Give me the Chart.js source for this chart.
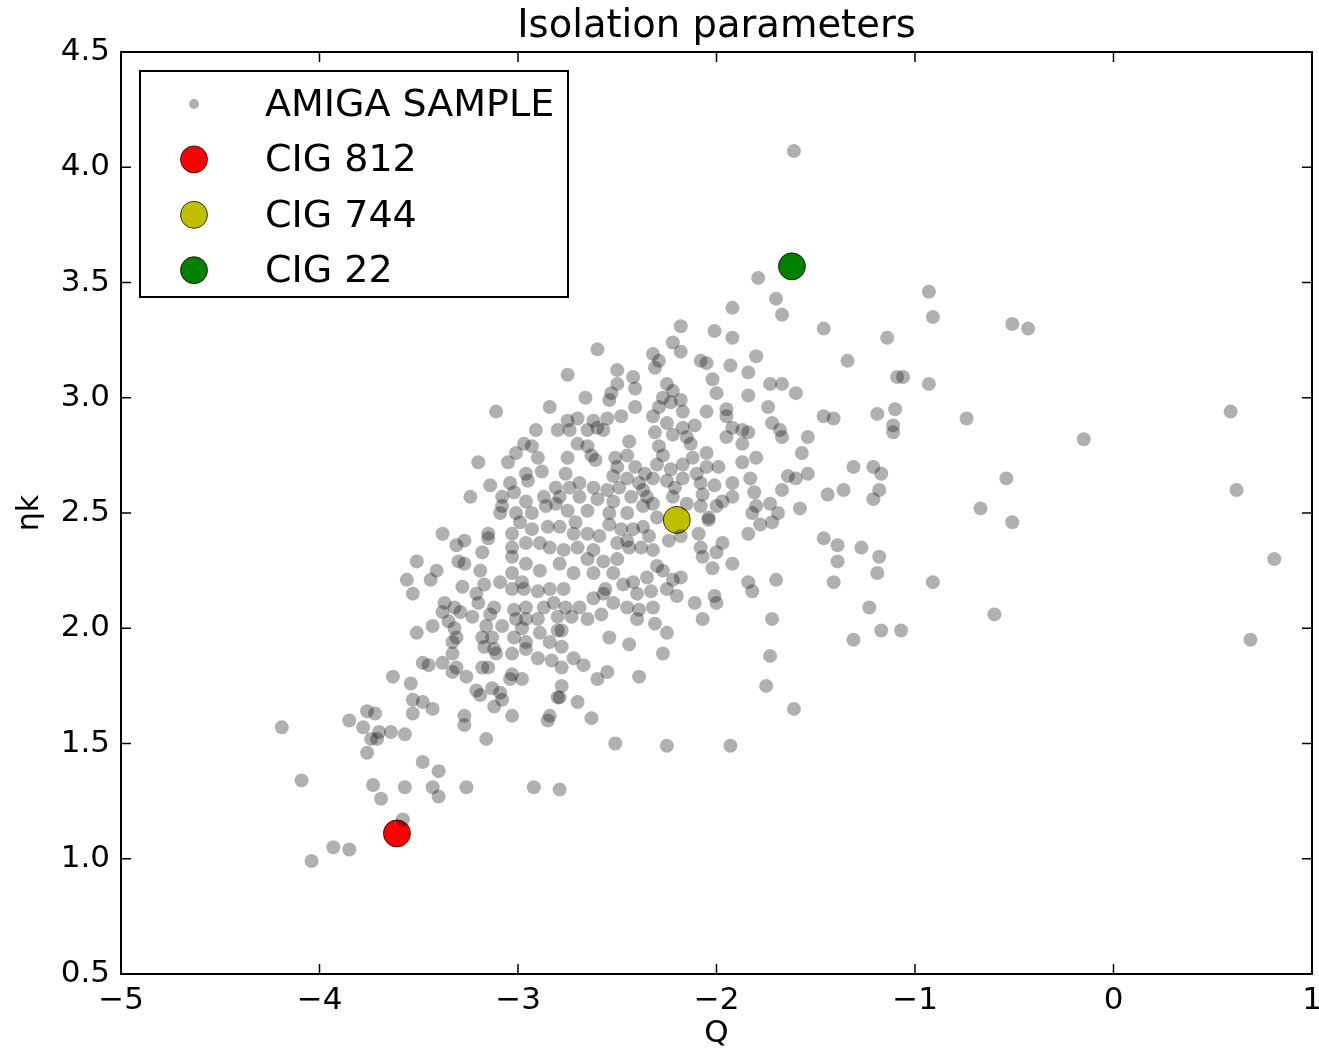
<!DOCTYPE html>
<html>
<head>
<meta charset="utf-8">
<script src="https://cdn.jsdelivr.net/npm/chart.js@4.4.1/dist/chart.umd.min.js"></script>
<style>
html,body{margin:0;padding:0;background:#fff;}
canvas{display:block;}
</style>
</head>
<body>
<canvas id="c" width="1319" height="1050"></canvas>
<script>
// ---- data ----
const chartTitle = 'Isolation parameters';
const xAxisLabel = 'Q';
const yAxisLabel = 'ηk';
const xTickValues = [-5, -4, -3, -2, -1, 0, 1];
const yTickValues = [0.5, 1.0, 1.5, 2.0, 2.5, 3.0, 3.5, 4.0, 4.5];

const amigaLabel = 'AMIGA SAMPLE';
const amigaQ = [
-3.11,-2.84,-2.91,-2.80,-2.97,-2.93,-3.01,-2.90,-3.20,-3.05,-2.88,-2.96,-2.95,-3.04,-3.14,-3.24,-3.08,-3.02,-2.87,-2.81,-2.81,-2.96,-3.08,-3.09,-3.01,-2.93,-2.86,-2.76,
-2.60,-2.22,-2.18,-2.32,-2.29,-2.31,-2.08,-2.05,-1.93,-2.01,-1.92,-2.75,-2.50,-2.42,-2.02,-2.50,-2.41,-2.53,-2.66,-2.54,-2.25,-2.22,-2.00,-2.27,-2.23,-2.18,-2.41,-2.17,-2.05,-1.95,-1.95,-2.29,
-2.75,-2.70,-2.62,-2.55,-2.48,-2.32,-2.25,-2.74,-2.65,-2.60,-2.57,-2.11,-2.17,-1.92,-2.31,-2.22,-2.15,-1.95,-1.87,-2.44,-2.70,-2.65,-2.63,-2.61,-2.75,-2.51,-2.45,-2.29,-2.27,-2.13,-2.12,-2.05,
-2.50,-2.41,-2.36,-2.30,-2.23,-2.17,-2.05,-1.99,-2.52,-2.45,-2.39,-2.32,-2.25,-2.17,-2.10,-2.69,-2.74,-2.62,-2.55,-2.49,-2.37,-2.21,-2.08,-2.01,-1.92,
-2.79,-2.69,-2.60,-2.52,-2.43,-2.35,-2.22,-2.07,-1.97,-1.92,-2.75,-2.65,-2.54,-2.45,-2.37,-2.32,-2.15,-2.08,-2.00,-2.04,-1.82,-2.30,
-3.38,-3.27,-3.31,-3.15,-3.15,-3.18,-3.03,-2.99,-2.93,-2.85,-2.79,-3.03,-2.96,-2.89,-2.84,-3.51,-3.30,-3.27,-3.19,-3.03,-2.96,-2.89,-3.41,-3.44,-3.56,-3.53,-3.28,-3.17,-3.09,-3.03,
-2.98,-3.03,-2.97,-2.90,-2.84,-3.21,-3.20,-3.37,-3.32,-3.29,-3.38,-3.23,-3.14,-3.12,-3.02,-2.96,-2.87,-2.82,-3.01,-2.96,-2.90,-2.80,-3.51,-3.43,-3.35,-3.32,-3.16,-3.08,-2.98,-2.89,-2.80,
-3.33,-3.31,-3.18,-3.13,-3.02,-2.96,-2.84,-3.33,-3.17,-3.12,-3.11,-3.03,-2.96,-2.90,-2.83,-3.48,-3.45,-3.38,-3.31,-3.33,-3.26,-3.18,-3.15,-3.03,-2.98,-3.04,-3.63,-3.54,-3.21,-3.19,-3.13,-3.09,
-3.53,-3.48,-3.43,-3.53,-3.08,-3.12,-2.80,-3.27,-3.03,-2.84,
-2.71,-2.72,-2.65,-2.59,-2.54,-2.48,-2.42,-2.37,-2.34,-2.24,-2.18,-2.09,-2.04,-1.97,-2.00,-2.08,-2.07,-1.92,-2.02,-2.77,-2.70,-2.62,-2.50,-2.45,-2.44,-2.38,-2.32,-2.65,-2.57,-2.50,-2.30,-2.27,
-2.79,-2.72,-2.62,-2.52,-2.42,-2.35,-2.22,-2.18,-2.77,-2.56,-2.47,-2.40,-2.33,-2.25,-2.20,-2.11,-2.01,-2.00,-2.62,-2.52,-2.57,-2.45,-2.39,-2.32,-2.76,-2.69,-2.73,-2.65,-2.58,-2.40,-2.31,-2.07,
-2.25,-2.78,-2.54,-2.44,-2.78,-2.27,-2.72,-2.67,-2.78,-2.55,-2.60,-2.39,-2.78,-2.70,-2.79,-2.63,
-3.76,-3.72,-3.85,-3.78,-3.70,-3.64,-3.57,-3.74,-3.71,-3.76,-4.19,-3.48,-3.40,-4.09,-3.73,-3.57,-3.43,-3.40,-3.69,-3.58,-3.93,-3.85,-4.04,
-3.27,-2.85,-3.16,-2.51,-2.25,-1.93,-3.26,-2.92,-2.79,
-1.79,-1.70,-1.67,-1.46,-0.93,-0.91,-1.14,-1.80,-1.84,-1.34,-1.09,-1.06,-0.93,-1.73,-1.67,-1.60,-1.84,-1.74,-1.46,-1.41,-1.19,-1.10,-1.11,-1.11,-1.72,-1.68,-1.67,-1.87,-1.84,-1.54,-1.57,-1.80,
-1.87,-1.83,-1.64,-1.60,-1.54,-1.31,-1.21,-1.17,-1.18,-1.21,-1.36,-1.44,-1.67,-1.81,-1.80,-1.73,-1.69,-1.72,-1.78,-1.84,-1.58,-1.46,-1.39,-1.27,-1.18,-1.39,-1.19,-1.41,-0.91,-1.84,-1.82,-1.70,
-1.23,-1.17,-1.07,-1.31,-1.72,-1.73,-1.75,-1.61,
-1.61,-2.18,-1.92,
-0.51,-0.43,-0.74,-0.15,0.59,-0.54,-0.67,-0.51,0.62,0.81,-0.60,0.69
];
const amigaEta = [
2.94,2.96,2.86,2.86,2.80,2.79,2.76,2.74,2.72,2.72,2.68,2.67,2.64,2.63,2.62,2.57,2.57,2.59,2.57,2.61,2.54,2.55,2.53,2.50,2.50,2.50,2.53,2.67,
3.21,3.24,3.20,3.19,3.16,3.13,3.16,3.15,3.14,3.29,3.26,3.10,3.12,3.09,3.08,3.06,3.04,3.02,3.00,2.99,3.06,3.03,3.02,3.00,2.98,2.99,2.96,2.94,2.94,2.95,2.92,2.96,
2.90,2.91,2.90,2.91,2.92,2.92,2.89,2.86,2.86,2.87,2.86,2.88,2.87,2.87,2.85,2.84,2.83,2.83,2.80,2.81,2.80,2.79,2.75,2.73,2.74,2.74,2.75,2.79,2.75,2.80,2.74,2.76,
2.70,2.70,2.67,2.71,2.69,2.71,2.70,2.70,2.66,2.65,2.63,2.65,2.64,2.65,2.67,2.63,2.61,2.61,2.60,2.61,2.60,2.61,2.63,2.62,2.63,
2.57,2.57,2.56,2.55,2.57,2.57,2.57,2.58,2.55,2.57,2.51,2.51,2.50,2.50,2.53,2.54,2.54,2.53,2.53,2.48,2.50,2.48,
2.41,2.38,2.36,2.41,2.39,2.33,2.41,2.46,2.43,2.44,2.44,2.35,2.37,2.37,2.35,2.29,2.29,2.28,2.25,2.31,2.28,2.25,2.25,2.21,2.21,2.15,2.18,2.19,2.20,2.24,
2.20,2.17,2.17,2.16,2.17,2.15,2.11,2.11,2.09,2.07,2.07,2.05,2.06,2.09,2.08,2.09,2.09,2.11,2.04,2.04,2.04,2.05,1.98,2.01,2.03,2.00,2.01,2.01,2.00,1.98,1.99,
1.94,1.96,1.96,1.96,1.96,1.94,1.94,1.89,1.92,1.91,1.89,1.89,1.91,1.87,1.86,1.85,1.84,1.85,1.83,1.81,1.79,1.83,1.83,1.80,1.78,1.78,1.79,1.76,1.73,1.71,1.74,1.72,
1.69,1.68,1.65,1.63,1.69,1.66,1.70,1.62,1.62,1.62,
2.46,2.41,2.41,2.40,2.45,2.43,2.43,2.44,2.40,2.38,2.40,2.41,2.47,2.37,2.33,2.35,2.31,2.28,2.26,2.34,2.35,2.34,2.37,2.38,2.35,2.35,2.34,2.30,2.29,2.30,2.27,2.25,
2.28,2.24,2.24,2.24,2.20,2.22,2.21,2.22,2.17,2.17,2.19,2.15,2.16,2.17,2.14,2.11,2.14,2.11,2.13,2.11,2.15,2.09,2.08,2.09,2.09,2.09,2.05,2.04,2.06,2.04,2.02,2.04,
1.98,1.99,1.96,1.93,1.92,1.89,1.87,1.84,1.83,1.81,1.78,1.79,1.75,1.68,1.70,1.61,
1.64,1.63,1.60,1.57,1.55,1.55,1.54,1.52,1.52,1.46,1.57,1.42,1.38,1.34,1.32,1.31,1.31,1.27,1.26,1.17,1.05,1.04,0.99,
1.58,1.60,1.52,1.50,1.49,1.49,1.31,1.31,1.30,
3.52,3.43,3.36,3.30,3.46,3.35,3.26,3.18,3.11,3.16,3.09,3.09,3.06,3.06,3.06,3.02,3.01,2.96,2.92,2.91,2.93,2.95,2.88,2.85,2.89,2.86,2.83,2.86,2.85,2.83,2.76,2.74,
2.72,2.65,2.66,2.65,2.67,2.70,2.70,2.67,2.60,2.56,2.60,2.58,2.60,2.59,2.53,2.54,2.50,2.46,2.45,2.41,2.52,2.39,2.36,2.35,2.31,2.29,2.24,2.20,2.20,2.20,2.16,2.21,
2.09,1.99,1.99,1.95,2.04,1.88,1.75,1.65,
4.07,3.31,3.39,
3.32,3.30,2.91,2.82,2.94,2.65,2.52,2.46,2.60,2.30,2.06,1.95
];

const cigLabels = ['CIG 812', 'CIG 744', 'CIG 22'];
const cigQ = [-3.61, -2.20, -1.62];
const cigEta = [1.11, 2.47, 3.57];
const cigColors = ['#ff0000', '#bfbf00', '#008000'];

// ---- build datasets ----
const FONT = '"DejaVu Sans", "Liberation Sans", sans-serif';
const amigaPoints = amigaQ.map((q, i) => ({x: q, y: amigaEta[i]}));
const datasets = [{
  label: amigaLabel,
  data: amigaPoints,
  pointRadius: 7,
  pointHoverRadius: 7,
  backgroundColor: 'rgba(0,0,0,0.31)',
  borderWidth: 0,
  legendRadius: 5
}];
cigLabels.forEach((lab, i) => {
  datasets.push({
    label: lab,
    data: [{x: cigQ[i], y: cigEta[i]}],
    pointRadius: 13.5,
    pointHoverRadius: 13.5,
    backgroundColor: cigColors[i],
    borderColor: 'rgba(0,0,0,0.75)',
    borderWidth: 1,
    legendRadius: 13.5
  });
});

const framePlugin = {
  id: 'frameTicks',
  afterDatasetsDraw(chart) {
    const {ctx, chartArea: a, scales: {x, y}} = chart;
    const L = 10;
    ctx.save();
    ctx.strokeStyle = '#000';
    ctx.lineWidth = 1.5;
    ctx.beginPath();
    x.ticks.forEach(t => {
      const px = x.getPixelForValue(t.value);
      ctx.moveTo(px, a.bottom); ctx.lineTo(px, a.bottom - L);
      ctx.moveTo(px, a.top); ctx.lineTo(px, a.top + L);
    });
    y.ticks.forEach(t => {
      const py = y.getPixelForValue(t.value);
      ctx.moveTo(a.left, py); ctx.lineTo(a.left + L, py);
      ctx.moveTo(a.right, py); ctx.lineTo(a.right - L, py);
    });
    ctx.stroke();
    ctx.lineWidth = 2;
    ctx.strokeRect(a.left, a.top, a.right - a.left, a.bottom - a.top);
    ctx.restore();
  }
};

const titlePlugin = {
  id: 'areaTitle',
  afterDraw(chart) {
    const {ctx, chartArea: a} = chart;
    ctx.save();
    ctx.fillStyle = '#000';
    ctx.font = '38.5px ' + FONT;
    ctx.textAlign = 'center';
    ctx.textBaseline = 'middle';
    ctx.fillText(chartTitle, (a.left + a.right) / 2, a.top - 25);
    ctx.restore();
  }
};

const legendPlugin = {
  id: 'boxLegend',
  afterDraw(chart) {
    const {ctx, chartArea: a} = chart;
    const bx = a.left + 19, by = a.top + 19, bw = 428, bh = 226;
    ctx.save();
    ctx.fillStyle = '#fff';
    ctx.fillRect(bx, by, bw, bh);
    ctx.strokeStyle = '#000';
    ctx.lineWidth = 2;
    ctx.strokeRect(bx, by, bw, bh);
    chart.data.datasets.forEach((ds, i) => {
      const cy = by + 33 + i * 55.4;
      const cx = bx + 54;
      ctx.beginPath();
      ctx.arc(cx, cy, ds.legendRadius, 0, Math.PI * 2);
      ctx.fillStyle = ds.backgroundColor;
      ctx.fill();
      if (ds.borderWidth) {
        ctx.lineWidth = ds.borderWidth;
        ctx.strokeStyle = ds.borderColor;
        ctx.stroke();
      }
      ctx.fillStyle = '#000';
      ctx.font = '38px ' + FONT;
      ctx.textBaseline = 'middle';
      ctx.textAlign = 'left';
      ctx.fillText(ds.label, bx + 125, cy + 2);
    });
    ctx.restore();
  }
};

new Chart(document.getElementById('c'), {
  type: 'scatter',
  data: {datasets},
  options: {
    responsive: false,
    animation: false,
    events: [],
    layout: {autoPadding: false, padding: {left: 0, right: 7, top: 52, bottom: 0}},
    plugins: {
      legend: {display: false},
      tooltip: {enabled: false},
      title: {display: false}
    },
    scales: {
      x: {
        type: 'linear',
        min: xTickValues[0],
        max: xTickValues[xTickValues.length - 1],
        afterBuildTicks(scale) { scale.ticks = xTickValues.map(v => ({value: v})); },
        afterFit(scale) { scale.height = 76; scale.paddingLeft = 0; scale.paddingRight = 0; },
        grid: {display: false, drawTicks: false},
        border: {display: false},
        ticks: {
          color: '#000',
          padding: 8,
          maxRotation: 0,
          autoSkip: false,
          font: {family: FONT, size: 31},
          callback: v => (v < 0 ? '\u2212' + Math.abs(v) : String(v))
        },
        title: {
          display: true,
          text: xAxisLabel,
          color: '#000',
          font: {family: FONT, size: 31},
          padding: {top: 0, bottom: -3}
        }
      },
      y: {
        type: 'linear',
        min: yTickValues[0],
        max: yTickValues[yTickValues.length - 1],
        afterBuildTicks(scale) { scale.ticks = yTickValues.map(v => ({value: v})); },
        afterFit(scale) { scale.width = 121; scale.paddingTop = 0; scale.paddingBottom = 0; },
        grid: {display: false, drawTicks: false},
        border: {display: false},
        ticks: {
          color: '#000',
          padding: 11,
          autoSkip: false,
          font: {family: FONT, size: 31},
          callback: v => Number(v).toFixed(1)
        },
        title: {
          display: true,
          text: yAxisLabel,
          color: '#000',
          font: {family: FONT, size: 30},
          padding: {top: 12, bottom: 0}
        }
      }
    }
  },
  plugins: [framePlugin, titlePlugin, legendPlugin]
});
</script>
</body>
</html>
